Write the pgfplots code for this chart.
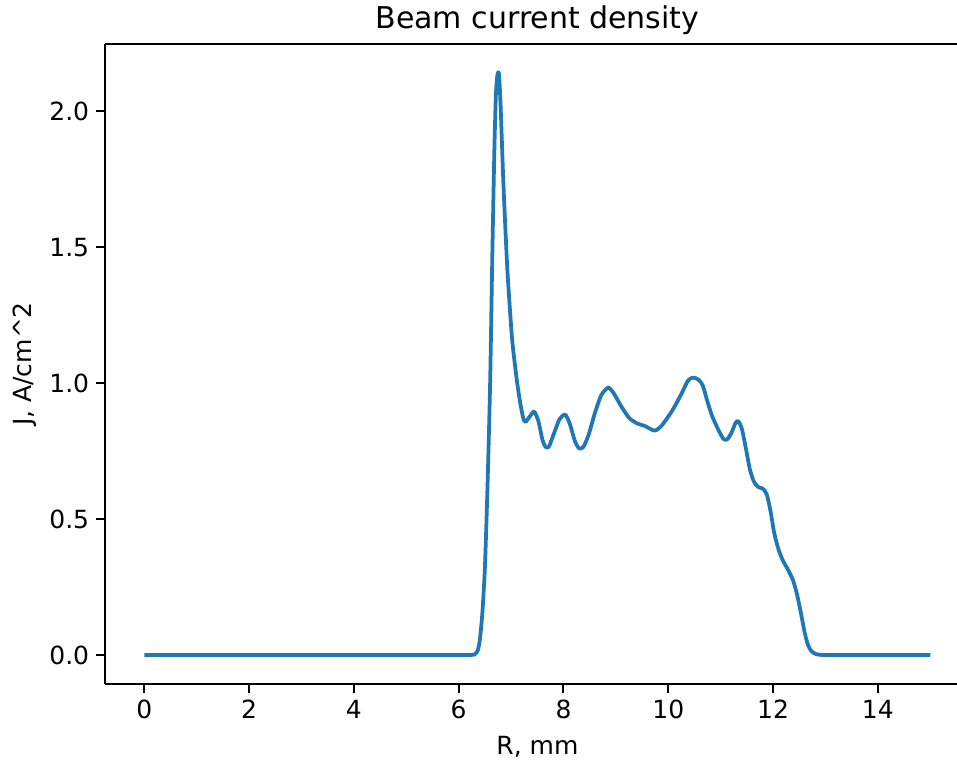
\documentclass[border=0pt]{standalone}
\usepackage{pgfplots}
\pgfplotsset{compat=1.18}
\usepackage{fontspec}
\setmainfont{DejaVu Sans}
\definecolor{mplblue}{RGB}{31,119,180}

\pgfplotstableread{
r j
0.00 0.000
1.00 0.000
2.00 0.000
3.00 0.000
4.00 0.000
5.00 0.000
5.60 0.000
6.00 0.000
6.15 0.000
6.25 0.000
6.30 0.001
6.36 0.015
6.40 0.050
6.45 0.150
6.50 0.320
6.55 0.620
6.60 1.000
6.64 1.450
6.68 1.850
6.71 2.060
6.74 2.135
6.77 2.135
6.80 2.020
6.85 1.750
6.90 1.530
6.94 1.380
7.02 1.160
7.11 1.010
7.18 0.920
7.24 0.865
7.28 0.858
7.35 0.875
7.44 0.895
7.52 0.860
7.60 0.790
7.66 0.765
7.72 0.765
7.80 0.805
7.92 0.865
8.03 0.884
8.12 0.850
8.22 0.785
8.30 0.759
8.38 0.765
8.48 0.810
8.60 0.890
8.72 0.955
8.85 0.983
8.95 0.965
9.10 0.915
9.25 0.872
9.40 0.852
9.55 0.842
9.74 0.825
9.88 0.845
10.08 0.900
10.25 0.960
10.38 1.010
10.48 1.020
10.58 1.012
10.66 0.990
10.75 0.930
10.84 0.877
10.95 0.830
11.05 0.795
11.12 0.792
11.20 0.815
11.28 0.852
11.33 0.860
11.40 0.835
11.48 0.760
11.56 0.680
11.64 0.635
11.72 0.617
11.80 0.612
11.88 0.590
11.95 0.530
12.02 0.450
12.10 0.390
12.18 0.350
12.28 0.315
12.38 0.275
12.46 0.220
12.53 0.155
12.60 0.085
12.66 0.040
12.73 0.014
12.82 0.003
12.92 0.000
13.02 0.000
13.20 0.000
13.50 0.000
14.00 0.000
14.50 0.000
15.00 0.000
}\beamdata

\begin{document}
\begin{tikzpicture}
\begin{axis}[
  at={(0,0)}, anchor=south west,
  scale only axis,
  width=426pt, height=320pt,
  xmin=-0.75, xmax=15.51,
  ymin=-0.107, ymax=2.247,
  axis y line*=left,
  axis line style={line width=1pt},
  xtick={0,2,...,14},
  ytick={0,0.5,1,1.5,2},
  xtick pos=lower, ytick pos=left,
  tick align=outside,
  major tick length=4.4pt,
  every tick/.style={black, line width=1pt},
  /pgf/number format/assume math mode=true,
  ticklabel style={font=\fontsize{12.5}{15}\selectfont},
  yticklabel style={/pgf/number format/.cd, fixed, fixed zerofill, precision=1},
  title={Beam current density},
  title style={font=\fontsize{15}{18}\selectfont, at={(axis description cs:0.5076,1)}, anchor=base, yshift=1.5pt},
  xlabel={R, mm},
  xlabel style={font=\fontsize{12.5}{15}\selectfont, at={(axis description cs:0.5076,0)}, anchor=base, yshift=-35pt},
  ylabel={J, A/cm\textasciicircum 2},
  ylabel style={font=\fontsize{12.5}{15}\selectfont, at={(axis description cs:-0.0857,0.5)}, anchor=base, rotate=0},
]
\addplot[mplblue, line width=1.875pt, line join=round, smooth, tension=0.4] table[x=r, y=j] {\beamdata};
\end{axis}
\pgfresetboundingbox
\path[use as bounding box] (-52.5pt,-38pt) rectangle (426pt,342pt);
\end{tikzpicture}
\end{document}
